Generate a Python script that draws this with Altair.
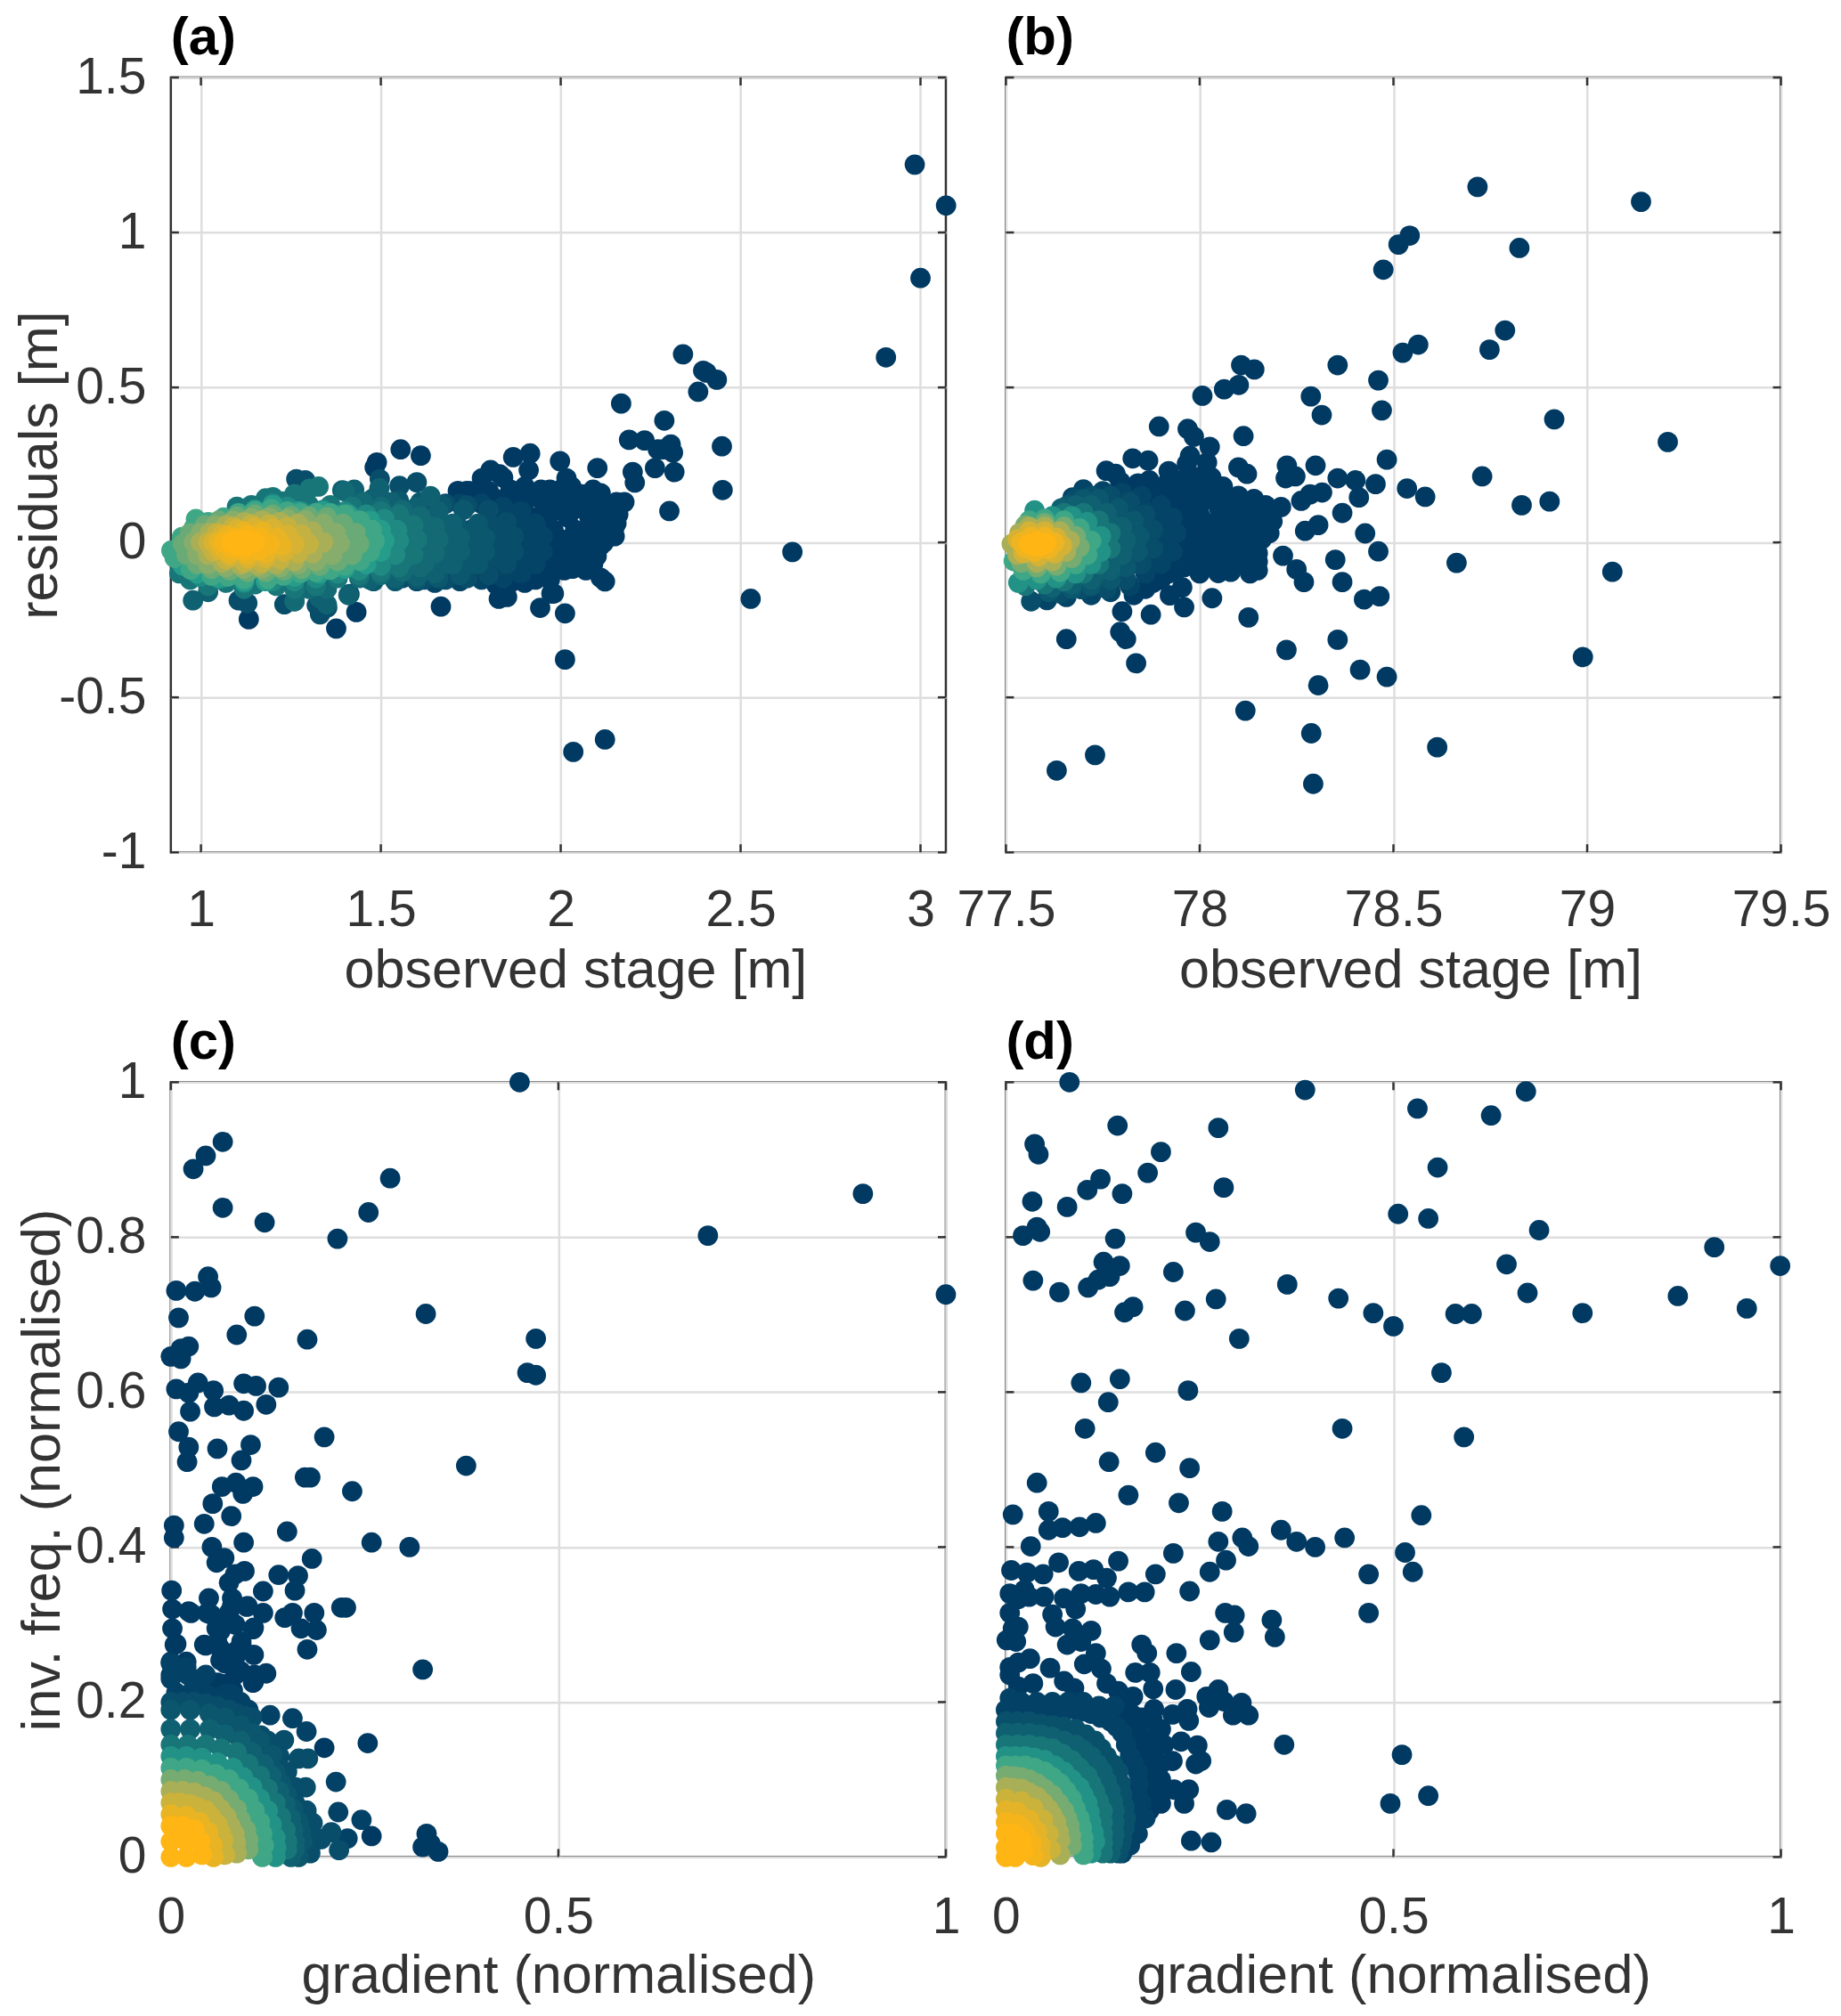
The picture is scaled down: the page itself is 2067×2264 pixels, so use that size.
import altair as alt
import pandas as pd

FONT = "Liberation Sans"
TEXT = "#333333"
FRAME = "#333333"
GRID = "#dedede"
COLOR_STOPS = [0, 0.25, 0.5, 0.75, 1]
COLOR_RANGE = ["#003a63", "#136a74", "#2aa58e", "#93ae66", "#ffb514"]

A_XTICKS = [1, 1.5, 2, 2.5, 3]
B_XTICKS = [77.5, 78, 78.5, 79, 79.5]
AB_YTICKS = [-1, -0.5, 0, 0.5, 1, 1.5]
CD_XTICKS = [0, 0.5, 1]
CD_YTICKS = [0, 0.2, 0.4, 0.6, 0.8, 1]

A_DARK = [
(2.984,1.219),(3.071,1.087),(3.0,.853),(2.904,.597),(2.34,.607),(2.396,.554),(2.405,.548),(2.434,.525),(2.382,.486),
(2.168,.448),(2.288,.393),(2.19,.331),(2.233,.329),(2.448,.31),(2.306,.316),(2.312,.29),(2.285,.3),(2.27,.3),(2.262,.24),
(2.316,.227),(2.2,.227),(2.206,.193),(2.45,.169),(2.302,.101),(2.177,.13),(2.644,-.031),(2.528,-.182),(2.012,-.229),
(2.012,-.378),(2.035,-.676),(2.123,-.636),(1.868,.275),(1.915,.287),(1.911,.233),(1.83,.22),(1.781,.207),(1.805,.233),
(1.998,.262),(2.016,.207),(2.102,.24),(2.03,.18),(2.111,.159),(2.059,.155),(2.155,.13),(2.137,.072),(2.155,.062),
(2.111,-.01),(2.033,-.085),(2.111,-.114),(2.123,-.126),(1.981,-.165),(1.943,-.211),(1.828,-.182),(1.851,-.176),(1.667,-.207),
(1.84,.209),(1.945,.17),(1.97,.156),(1.9,.18),(1.86,.17),(1.8,.165),(1.75,.165),(1.714,.166),(1.739,.166),(2.0,.17),
(2.08,.14),(2.12,.12),(2.16,.09),(2.05,.11),(2.0,.12),(1.95,.13),(1.9,.13),(1.85,.14),(1.96,.09),(2.02,.08),(2.08,.08),
(2.13,.03),(2.09,.03),(2.04,.04),(1.98,.04),(1.96,.0),(2.02,-.01),(2.07,-.02),(2.1,-.045),(2.05,-.06),(1.99,-.05),
(1.96,-.08),(2.01,-.09),(1.93,-.12),(1.97,-.12),(1.9,-.13),(1.86,-.13),(1.82,-.135),(2.0,-.02),(1.92,-.1),(1.95,.05),
(1.555,.3),(1.611,.28),(1.489,.258),(1.483,.242),(1.133,-.248),(1.376,-.278),(1.432,-.225),(1.974,-.165),
(1.88,.11),(1.92,.08),(1.98,.1),(2.03,.12),(2.07,.11),(2.11,.08),(2.15,.05),(1.91,.03),(1.94,.05),(1.93,.01),(2.0,.01),(2.06,.02),
(2.12,.0),(2.15,.02),(2.09,-.07),(2.04,-.03),(1.98,-.02),(1.94,-.04),(1.9,-.02),(1.88,-.06),(1.9,-.09),(1.96,-.05),(2.03,-.05),
(2.07,-.09),(1.88,.05),(1.85,.1),(1.82,.14),(1.78,.14),(1.74,.14),(1.92,.15),(1.97,.17),(2.03,.15),(2.09,.17),(2.13,.11),(2.14,.08),
(1.88,-.11),(1.84,-.125),
]
A_LEVELS = [.05,.1,.15,.2,.25,.3,.38,.46,.55,.65,.72,.8,.86,.91,.95,.98,1]
A_RINGS = [
[(1.72,.125),(1.78,.125),(1.84,.115),(1.89,.1),(1.93,.06),(1.95,.02),(1.95,-.03),(1.93,-.07),(1.89,-.1),(1.84,-.115),(1.78,-.12),(1.72,-.125),(1.65,-.13),(1.6,-.125),
 (1.91,.05),(1.91,0),(1.91,-.05),(1.87,.07),(1.87,.02),(1.87,-.03),(1.87,-.08),(1.82,.06),(1.82,0),(1.82,-.06)],
[(1.62,.13),(1.68,.125),(1.74,.12),(1.8,.105),(1.85,.065),(1.87,.02),(1.87,-.03),(1.85,-.07),(1.8,-.105),(1.74,-.115),(1.68,-.12),(1.62,-.12),(1.56,-.115),
 (1.83,.05),(1.83,0),(1.83,-.05),(1.79,.07),(1.79,.01),(1.79,-.06),(1.75,.04),(1.75,-.03),
 (1.497,.204),(1.552,.182),(1.6,.194),(1.265,.204),(1.29,.2),(1.351,-.21),(1.331,-.232),(1.322,-.203),(1.413,-.167),(1.232,-.2),(1.26,-.189),(1.105,-.187),(1.129,-.196)],
[(1.55,.135),(1.61,.13),(1.67,.12),(1.73,.105),(1.77,.06),(1.79,.015),(1.79,-.03),(1.77,-.07),(1.72,-.105),(1.66,-.115),(1.6,-.12),(1.54,-.125),(1.48,-.125),
 (1.75,.03),(1.75,-.02),(1.75,-.07),(1.71,.06),(1.71,0),(1.71,-.06),(1.67,.05),(1.67,-.04)],
[(1.47,.135),(1.53,.13),(1.6,.115),(1.66,.1),(1.7,.06),(1.72,.015),(1.72,-.03),(1.7,-.07),(1.65,-.1),(1.6,-.11),(1.54,-.115),(1.47,-.12),(1.41,-.17),(1.35,-.2),(1.33,-.18),
 (1.68,.04),(1.68,-.02),(1.68,-.07),(1.64,.06),(1.64,0),(1.64,-.06),(1.6,.04),(1.6,-.04),
 (1.496,.175),(1.393,.168),(1.426,.17),(1.638,.149),(1.479,.142),(1.12,-.145),(1.02,-.16),(.978,-.187)],
[(1.4,.165),(1.45,.13),(1.5,.115),(1.56,.105),(1.61,.085),(1.65,.05),(1.66,.01),(1.65,-.035),(1.61,-.08),(1.56,-.095),(1.5,-.105),(1.44,-.115),(1.26,-.19),(1.3,-.15),(1.35,-.15),
 (1.62,.04),(1.62,-.02),(1.62,-.07),(1.58,.06),(1.58,0),(1.58,-.06),(1.54,.04),(1.54,-.04)],
[(1.327,.18),(1.302,.173),(1.26,.156),(1.18,.142),(1.2,.146),(1.23,.132),(1.14,.12),(1.1,.115),(1.3,.12),(1.36,.12),(1.42,.115),(1.5,.1),(1.55,.09),(1.59,.055),(1.6,.01),(1.59,-.04),(1.55,-.08),(1.5,-.095),(1.44,-.105),(1.38,-.115),(1.32,-.14),(1.26,-.15),(1.21,-.14),(1.15,-.135),(1.12,-.15),(1.07,-.13),(1.02,-.14),(.97,-.12),(.94,-.1),
 (1.56,.04),(1.56,-.02),(1.56,-.06),(1.52,.05),(1.52,-.03),(1.48,0)],
[(1.2,.125),(1.24,.115),(1.28,.1),(1.34,.105),(1.4,.1),(1.46,.09),(1.51,.075),(1.545,.04),(1.55,.005),(1.54,-.04),(1.5,-.075),(1.44,-.09),(1.38,-.1),(1.32,-.115),(1.26,-.125),(1.2,-.125),(1.12,-.13),(1.06,-.115),(1.0,-.11),
 (1.52,.03),(1.52,-.03),(1.48,.05),(1.48,-.05)],
[(1.15,.105),(1.2,.12),(1.27,.1),(1.34,.1),(1.41,.09),(1.47,.07),(1.5,.04),(1.51,.005),(1.5,-.03),(1.46,-.07),(1.4,-.085),(1.33,-.1),(1.26,-.11),(1.18,-.125),(1.12,-.125),(1.05,-.115),(.99,-.1),(.95,-.075),
 (1.46,.03),(1.46,-.03),(1.42,.05),(1.42,-.05)],
[(.918,-.026),(.947,.017),(.986,.075),(.98,.046),(1.02,.065),(1.063,.08),(1.104,.094),(1.15,.1),(1.195,.108),(1.24,.1),(1.277,.094),(1.32,.095),(1.36,.094),(1.4,.09),(1.442,.07),(1.475,.04),(1.483,.005),(1.47,-.03),(1.442,-.059),(1.4,-.075),(1.36,-.088),(1.32,-.095),(1.277,-.098),(1.23,-.107),(1.186,-.117),(1.12,-.117),(1.075,-.11),(1.03,-.107),(.972,-.088),(.927,-.05)],
[(.95,-.005),(.97,.03),(1.01,.055),(1.05,.07),(1.1,.083),(1.15,.09),(1.2,.09),(1.25,.085),(1.3,.083),(1.35,.08),(1.395,.06),(1.43,.03),(1.44,-.005),(1.42,-.04),(1.38,-.06),(1.33,-.075),(1.28,-.085),(1.23,-.09),(1.18,-.095),(1.13,-.095),(1.08,-.09),(1.03,-.085),(.99,-.07),(.96,-.04)],
[(.98,.0),(1.0,.03),(1.04,.055),(1.09,.07),(1.14,.078),(1.19,.08),(1.24,.075),(1.29,.072),(1.34,.06),(1.375,.03),(1.385,-.005),(1.365,-.04),(1.32,-.06),(1.27,-.07),(1.22,-.08),(1.17,-.085),(1.12,-.085),(1.07,-.08),(1.02,-.07),(.99,-.04)],
[(1.0,.0),(1.025,.03),(1.07,.055),(1.12,.065),(1.17,.07),(1.22,.065),(1.27,.06),(1.31,.035),(1.34,.0),(1.31,-.035),(1.26,-.06),(1.21,-.07),(1.16,-.075),(1.11,-.072),(1.06,-.065),(1.02,-.04)],
[(1.02,.0),(1.045,.03),(1.09,.05),(1.14,.058),(1.19,.058),(1.24,.05),(1.28,.025),(1.3,-.005),(1.27,-.035),(1.22,-.055),(1.17,-.065),(1.12,-.065),(1.07,-.055),(1.035,-.03)],
[(1.035,.0),(1.06,.025),(1.1,.042),(1.15,.048),(1.2,.045),(1.24,.025),(1.26,-.005),(1.23,-.03),(1.18,-.05),(1.13,-.052),(1.08,-.045),(1.05,-.025)],
[(1.05,.0),(1.075,.022),(1.12,.035),(1.17,.035),(1.21,.015),(1.225,-.01),(1.18,-.035),(1.13,-.04),(1.08,-.035),(1.06,-.015)],
[(1.065,.0),(1.09,.015),(1.13,.022),(1.165,.015),(1.19,-.005),(1.16,-.025),(1.12,-.028),(1.085,-.02)],
[(1.085,.0),(1.1,.005),(1.125,.008),(1.15,.0),(1.125,-.012),(1.1,-.01)],
]

B_DARK = [
(78.717,1.147),(79.139,1.099),(78.542,.99),(78.513,.961),(78.825,.95),(78.474,.88),(78.788,.684),(78.748,.622),(78.564,.638),
(78.524,.612),(78.107,.572),(78.141,.558),(78.101,.508),(78.063,.494),(78.007,.473),(78.356,.572),(78.461,.523),(78.287,.471),
(78.315,.411),(78.47,.426),(78.915,.397),(79.208,.324),(77.895,.374),(77.969,.366),(77.985,.341),(78.026,.308),(78.113,.343),
(77.827,.271),(77.867,.264),(77.975,.279),(77.967,.254),(78.019,.258),(78.004,.213),(77.759,.231),(77.783,.221),(77.795,.196),
(78.1,.242),(78.122,.221),(78.225,.248),(78.299,.248),(78.483,.267),(78.222,.207),(78.247,.213),(78.356,.207),(78.402,.2),
(78.454,.188),(78.729,.213),(78.316,.161),(78.535,.174),(78.582,.147),(78.411,.145),(78.262,.134),(78.285,.155),(78.903,.132),
(78.831,.12),(78.368,.095),(78.21,.114),(78.188,.068),(78.306,.056),(78.272,.037),(78.427,.029),(79.065,-.095),(78.663,-.066),
(78.461,-.029),(78.35,-.056),(78.215,-.043),(78.25,-.087),(78.269,-.128),(78.368,-.128),(78.115,-.062),(78.15,-.062),(78.15,-.035),
(78.048,-.099),(78.032,-.18),(77.955,-.145),(77.923,-.171),(77.96,-.209),(77.874,-.233),(77.8,-.223),(78.126,-.242),(78.424,-.184),
(78.464,-.174),(77.795,-.289),(77.81,-.312),(77.656,-.312),(77.836,-.39),(78.224,-.347),(78.356,-.314),(78.414,-.411),(78.483,-.434),
(78.306,-.461),(78.989,-.37),(78.118,-.543),(78.288,-.616),(78.613,-.661),(77.73,-.686),(77.631,-.736),(78.293,-.779),
(77.88,.17),(77.92,.2),(77.96,.2),(78.0,.19),(78.06,.18),(78.1,.15),(78.14,.14),(78.17,.12),(78.19,.1),(78.14,.09),(78.1,.1),
(78.06,.13),(78.02,.14),(77.98,.14),(77.94,.15),(77.9,.14),(77.96,.09),(78.0,.09),(78.05,.08),(78.11,.05),(78.13,.02),(78.09,.02),
(78.04,.03),(78.0,.03),(77.96,.03),(77.95,-.02),(78.0,-.02),(78.05,-.02),(78.09,-.03),(78.13,-.01),(78.16,.01),(78.03,-.06),(77.98,-.06),
(77.94,-.09),(78.0,-.1),(78.08,-.07),(77.9,-.12),(77.86,-.15),(77.9,.1),(77.83,-.17),
(77.92,.17),(77.96,.16),(78.02,.17),(78.07,.15),(78.12,.12),(78.16,.09),(78.0,.12),(77.97,.12),(77.93,.12),(78.05,.11),(78.08,.07),
(78.12,.08),(77.98,.06),(78.02,.06),(78.07,.05),(78.15,.05),(78.18,.03),(77.98,.0),(78.03,.0),(78.08,.0),(78.12,-.02),(77.93,.03),
(77.94,-.04),(77.97,-.03),(78.02,-.04),(78.07,-.04),(78.11,-.06),(77.96,-.08),(78.04,-.08),(78.15,-.09),(78.13,-.1),(78.08,-.095),
(78.01,-.075),(77.92,-.1),(77.88,-.13),(77.85,.14),(77.84,.19),(77.87,.2),(77.92,.23),(77.97,.22),(78.03,.21),(77.86,.11),
]
B_LEVELS = [.05,.1,.15,.2,.3,.42,.55,.68,.8,.9,.96,1]
B_RINGS = [
[(77.672,.145),(77.7,.171),(77.75,.165),(77.8,.16),(77.85,.15),(77.9,.12),(77.93,.08),(77.94,.03),(77.93,-.03),(77.9,-.07),(77.86,-.1),(77.82,-.14),(77.77,-.16),(77.72,-.17),(77.656,-.176),(77.606,-.186),
 (77.9,.07),(77.9,.02),(77.9,-.03),(77.86,.1),(77.86,.05),(77.86,0),(77.86,-.05),(77.82,.1),(77.82,.05),(77.82,-.01),(77.82,-.07)],
[(77.68,.14),(77.72,.15),(77.77,.15),(77.82,.13),(77.86,.09),(77.88,.04),(77.88,-.02),(77.85,-.07),(77.81,-.12),(77.76,-.15),(77.695,-.151),(77.565,-.19),(77.64,-.165),
 (77.84,.08),(77.84,.03),(77.84,-.02),(77.84,-.07),(77.8,.09),(77.8,.04),(77.8,-.02),(77.8,-.08),(77.76,.09),(77.76,-.09)],
[(77.66,.12),(77.7,.14),(77.74,.14),(77.79,.11),(77.83,.07),(77.845,.02),(77.84,-.03),(77.81,-.08),(77.77,-.12),(77.72,-.14),(77.67,-.15),(77.61,-.16),
 (77.8,.05),(77.8,0),(77.8,-.05),(77.76,.08),(77.76,.02),(77.76,-.05),(77.76,-.1),(77.72,.09),(77.72,-.09)],
[(77.643,.11),(77.68,.12),(77.72,.12),(77.76,.095),(77.8,.05),(77.81,.005),(77.8,-.04),(77.77,-.09),(77.72,-.12),(77.67,-.135),(77.62,-.145),
 (77.77,.06),(77.77,.01),(77.77,-.04),(77.77,-.08),(77.73,.08),(77.73,.02),(77.73,-.05),(77.73,-.1),(77.69,.09)],
[(77.65,.095),(77.7,.095),(77.74,.07),(77.77,.03),(77.77,-.02),(77.74,-.07),(77.7,-.1),(77.65,-.125),(77.6,-.135),(77.55,-.14),
 (77.74,.03),(77.74,-.03),(77.71,.06),(77.71,.0),(77.71,-.06),(77.67,.07),(77.67,-.08)],
[(77.574,.103),(77.62,.085),(77.67,.085),(77.71,.065),(77.745,.02),(77.745,-.03),(77.72,-.07),(77.68,-.1),(77.63,-.115),(77.58,-.12),(77.532,-.13)],
[(77.56,.07),(77.6,.075),(77.65,.07),(77.69,.045),(77.72,.005),(77.71,-.04),(77.68,-.07),(77.64,-.095),(77.59,-.1),(77.545,-.09),(77.52,-.06)],
[(77.55,.055),(77.6,.062),(77.65,.05),(77.68,.02),(77.69,-.015),(77.67,-.05),(77.63,-.075),(77.58,-.08),(77.54,-.065)],
[(77.535,.03),(77.56,.05),(77.6,.05),(77.64,.035),(77.665,.005),(77.655,-.03),(77.62,-.06),(77.58,-.065),(77.53,-.04),(77.515,-.005)],
[(77.53,.01),(77.56,.035),(77.6,.035),(77.63,.015),(77.645,-.01),(77.625,-.035),(77.585,-.045),(77.545,-.035)],
[(77.54,.0),(77.565,.018),(77.6,.018),(77.625,.0),(77.61,-.022),(77.575,-.03),(77.55,-.018)],
[(77.56,-.005),(77.58,.003),(77.605,-.002),(77.59,-.012),(77.57,-.012)],
]

C_DARK = [
(.45,1.0),(.067,.923),(.045,.905),(.029,.888),(.283,.876),(.893,.856),(.067,.838),(.255,.832),(.121,.819),(.693,.802),(.215,.798),
(.048,.749),(.052,.735),(.007,.731),(.031,.73),(1.0,.726),(.01,.696),(.108,.698),(.329,.701),(.085,.674),(.176,.668),(.471,.669),
(.023,.659),(.013,.656),(0,.646),(.013,.643),(.46,.625),(.471,.622),(.035,.612),(.007,.604),(.023,.599),(.055,.602),(.094,.611),
(.11,.608),(.139,.606),(.056,.581),(.075,.583),(.094,.576),(.123,.584),(.025,.575),(.01,.549),(.198,.542),(.023,.529),(.06,.527),
(.103,.532),(.021,.51),(.091,.512),(.381,.505),(.173,.49),(.18,.49),(.234,.472),(.084,.483),(.066,.478),(.106,.478),(.093,.469),
(.054,.456),(.078,.44),(.043,.43),(.004,.428),(.004,.412),(.15,.42),(.259,.406),(.308,.4),(.094,.406),(.053,.4),(.069,.386),(.059,.38),
(.182,.385),(.095,.369),(.083,.365),(.075,.354),(.139,.364),(.164,.363),(.16,.344),(.119,.343),(.001,.344),(.049,.334),(.002,.32),
(.023,.317),(.047,.315),(.079,.324),(.099,.324),(.119,.315),(.075,.307),(.147,.309),(.157,.315),(.185,.315),(.22,.322),(.226,.322),
(.188,.293),(.168,.295),(.107,.296),(.059,.295),(.002,.295),(.005,.274),(.176,.268),(.043,.274),(.063,.27),(.091,.278),(.107,.261),
(.083,.265),(.325,.242),(.123,.237),(.107,.226),(.019,.249),(.07,.25),(.09,.24),(.06,.225),(.08,.215),(.254,.147),(.198,.141),
(.259,.027),(.33,.03),(.325,.013),(.345,.007),(.335,.017),
(.026,.315),(.079,.334),(.098,.323),(.075,.315),(.052,.313),(.106,.294),(.064,.292),(.083,.3),(.007,.275),(.045,.273),(.06,.277),
(.091,.273),(.064,.254),(.083,.258),(0,.252),(.02,.252),(0,.235),(.041,.231),(.106,.225),(.083,.235),(.108,.235),(.068,.223),
]
C_LEVELS = [.04,.1,.14,.2,.3,.42,.55,.68,.8,.88,.95,1]
C_RINGS = [
[(0,.25),(.02,.245),(.045,.235),(.07,.21),(.09,.2),(0,.23),(.03,.22),(.06,.205),(.128,.183),(.157,.179),(.175,.162),(.213,.097),(.216,.058),(.246,.048),(.228,.024),
 (.007,.212),(.026,.212),(.049,.208),(.07,.205),(.079,.21),(.022,.235),(.041,.231),(.1,.19)],
[(0,.2),(.03,.2),(.06,.195),(.085,.185),(.105,.18),(.116,.157),(.146,.151),(.165,.127),(.177,.127),(.161,.09),(.174,.09),(.207,.032),(.194,.023),(.217,.009),(.183,.044),
 (.015,.2),(.045,.198),(.075,.19),(.095,.182),(.1,.165),(.125,.15),(.14,.13),(.15,.11),(.16,.07),(.175,.06),(.175,.035),(.17,.005),(.185,.02),(.18,.005)],
[(0,.19),(.05,.185),(.09,.17),(.115,.15),(.131,.132),(.135,.11),(.15,.08),(.165,.045),(.17,.02),(.165,0),
 (.025,.19),(.07,.18),(.105,.16),(.125,.13),(.143,.095),(.158,.062),(.168,.033)],
[(0,.165),(.05,.165),(.09,.15),(.12,.12),(.14,.085),(.155,.05),(.16,.02),(.155,0),
 (.025,.165),(.07,.158),(.105,.135),(.13,.105),(.148,.068),(.158,.035),(.16,.01)],
[(0,.145),(.045,.145),(.085,.135),(.115,.105),(.135,.07),(.148,.035),(.15,.01),
 (.022,.145),(.065,.14),(.1,.12),(.125,.088),(.142,.052),(.15,.02)],
[(0,.13),(.04,.128),(.08,.115),(.105,.09),(.125,.06),(.135,.025),(.135,0),
 (.02,.13),(.06,.122),(.093,.103),(.115,.075),(.13,.042),(.136,.012)],
[(0,.115),(.04,.113),(.075,.1),(.1,.075),(.115,.045),(.12,.015),(.118,0),
 (.02,.115),(.058,.107),(.088,.088),(.108,.06),(.118,.03)],
[(0,.1),(.035,.098),(.065,.085),(.085,.062),(.097,.035),(.1,.01),
 (.018,.1),(.05,.092),(.075,.074),(.09,.048),(.1,.022)],
[(0,.085),(.03,.083),(.055,.072),(.072,.052),(.082,.03),(.085,.005),
 (.015,.085),(.043,.078),(.064,.062),(.077,.04),(.084,.018)],
[(0,.07),(.025,.068),(.045,.06),(.06,.042),(.068,.022),(.07,.003),
 (.012,.07),(.035,.064),(.052,.052),(.064,.032)],
[(0,.055),(.02,.053),(.037,.045),(.048,.032),(.054,.015),(.055,0)],
[(0,.04),(.015,.04),(.03,.035),(.038,.02),(.04,.003),(0,.02),(.02,.02),(0,0),(.02,0)],
]

D_DARK = [
(.082,1.0),(.386,.99),(.671,.988),(.531,.966),(.626,.957),(.144,.944),(.274,.941),(.037,.92),(.042,.907),(.2,.91),(.557,.89),(.183,.883),
(.122,.875),(.105,.861),(.15,.856),(.281,.864),(.034,.846),(.079,.839),(.506,.83),(.545,.824),(.04,.813),(.044,.807),(.022,.802),(.245,.806),
(.263,.794),(.141,.798),(.688,.809),(.914,.787),(.126,.768),(.147,.763),(.646,.765),(.999,.763),(.216,.755),(.134,.749),(.119,.745),(.106,.735),
(.035,.744),(.069,.729),(.363,.739),(.673,.728),(.867,.724),(.271,.72),(.429,.721),(.164,.71),(.153,.703),(.231,.705),(.474,.702),(.58,.701),
(.601,.701),(.744,.702),(.956,.708),(.5,.685),(.301,.669),(.562,.625),(.097,.612),(.147,.617),(.132,.587),(.235,.602),(.102,.553),(.434,.553),
(.591,.542),(.193,.522),(.133,.51),(.237,.502),(.04,.483),(.158,.467),(.223,.457),(.009,.442),(.055,.446),(.279,.446),(.536,.441),(.055,.422),
(.073,.425),(.095,.426),(.116,.431),(.355,.422),(.375,.407),(.399,.4),(.437,.412),(.305,.412),(.313,.401),(.274,.407),(.032,.401),(.216,.392),
(.515,.393),(.145,.382),(.068,.38),(.284,.383),(.263,.368),(.468,.365),(.525,.368),(.007,.37),(.027,.367),(.048,.365),(.094,.369),(.113,.371),
(.13,.36),(.193,.365),(.237,.343),(.005,.34),(.024,.345),(.016,.333),(.049,.336),(.03,.336),(.075,.334),(.097,.34),(.116,.339),(.134,.336),
(.158,.342),(.179,.342),(.005,.315),(.06,.313),(.09,.32),(.283,.315),(.295,.312),(.468,.315),(.343,.306),(.347,.284),(.294,.29),(.016,.297),
(.009,.295),(.064,.297),(.086,.295),(.11,.292),(.001,.28),(.013,.278),(.079,.274),(.097,.278),(.263,.28),(.175,.274),(.182,.263),(.116,.263),
(.22,.263),(.031,.256),(.016,.251),(.005,.245),(.101,.249),(.123,.243),(.057,.244),(.239,.239),(.167,.238),(.186,.238),(.075,.227),(.088,.218),
(.13,.224),(.035,.224),(.016,.22),(.005,.235),(.145,.214),(.164,.207),(.19,.217),(.219,.216),(.259,.207),(.274,.216),(.304,.199),(.281,.201),
(.262,.193),(.313,.183),(.293,.183),(.234,.191),(.215,.184),(.236,.176),(.191,.191),(.189,.178),(.164,.183),(.153,.164),(.359,.145),(.172,.154),
(.181,.141),(.204,.145),(.226,.149),(.247,.144),(.252,.124),(.245,.12),(.215,.124),(.193,.116),(.511,.132),(.545,.079),(.496,.069),(.236,.087),
(.217,.087),(.2,.083),(.23,.069),(.2,.069),(.285,.061),(.31,.056),(.239,.021),(.265,.019),(.185,.1),(.18,.125),
(.15,.19),(.165,.165),(.175,.125),(.19,.135),(.18,.1),(.185,.085),(.16,.175),(.17,.165),(.178,.145),(.165,.15),(.19,.155),(.175,.18),
(.2,.165),(.2,.12),(.19,.11),(.2,.1),(.19,.07),(.185,.06),
]
D_LEVELS = [.04,.12,.2,.3,.42,.55,.68,.8,.88,.94,.98,1]
D_RINGS = [
[(.005,.205),(.02,.2),(.14,.195),(.12,.195),(.1,.2),(.08,.2),(.06,.2),(.04,.2),(0,.19),(.03,.19),(.06,.185),(.09,.19),(.11,.185),(.135,.175),(.15,.16),(.16,.13),(.17,.11),(.17,.08),(.175,.05),(.165,.035),(.16,.015),(.15,.005),(.18,.05),(.175,.07),(.17,.03),
 (.015,.195),(.045,.188),(.075,.188),(.1,.188),(.122,.18),(.143,.168),(.155,.145),(.165,.12),(.171,.095),(.172,.065)],
[(0,.175),(.03,.175),(.06,.17),(.09,.165),(.115,.15),(.13,.13),(.145,.11),(.15,.08),(.155,.05),(.15,.025),(.145,.005),
 (.015,.175),(.045,.172),(.075,.168),(.103,.158),(.123,.14),(.138,.12),(.148,.095),(.153,.065),(.153,.038),(.148,.015)],
[(0,.16),(.03,.16),(.06,.155),(.09,.145),(.11,.13),(.125,.11),(.135,.085),(.14,.06),(.14,.03),(.135,.005),
 (.015,.16),(.045,.158),(.075,.15),(.1,.138),(.118,.12),(.13,.098),(.138,.072),(.14,.045),(.138,.018)],
[(0,.145),(.03,.145),(.06,.14),(.085,.125),(.105,.105),(.115,.085),(.125,.06),(.125,.03),(.125,.005),
 (.015,.145),(.045,.143),(.073,.133),(.095,.115),(.11,.095),(.12,.072),(.125,.045),(.125,.018)],
[(0,.13),(.025,.13),(.05,.125),(.075,.11),(.095,.09),(.105,.07),(.11,.045),(.115,.02),(.11,.005),
 (.012,.13),(.037,.128),(.063,.118),(.085,.1),(.1,.08),(.108,.058),(.113,.032)],
[(0,.118),(.025,.118),(.05,.11),(.07,.095),(.085,.075),(.095,.05),(.1,.025),(.1,.003),
 (.012,.118),(.037,.115),(.06,.103),(.078,.085),(.09,.062),(.098,.038),(.1,.014)],
[(0,.105),(.02,.103),(.04,.095),(.06,.08),(.075,.06),(.082,.04),(.085,.015),
 (.01,.104),(.03,.1),(.05,.088),(.068,.07),(.079,.05),(.084,.028)],
[(0,.09),(.02,.088),(.04,.078),(.055,.062),(.065,.045),(.07,.022),(.07,.003),
 (.01,.089),(.03,.083),(.048,.07),(.06,.054),(.068,.033)],
[(0,.075),(.02,.072),(.035,.063),(.048,.048),(.055,.03),(.058,.01)],
[(0,.06),(.015,.058),(.03,.048),(.04,.033),(.045,.015),(.045,0)],
[(0,.045),(.015,.042),(.025,.033),(.033,.018),(.035,.002)],
[(0,.03),(.01,.03),(.02,.022),(.022,.008),(0,.012),(.01,.01),(.012,0),(0,0)],
]

W = H = 871
TICK = 9
AXIS_STYLE = dict(
    labelFont=FONT, titleFont=FONT, labelColor=TEXT, titleColor=TEXT,
    labelFontSize=57, titleFontSize=61.2, titleFontWeight="normal",
    gridColor=GRID, gridWidth=2.5, domain=False, ticks=False,
    labelOverlap=False, labelBound=False, labelFlush=False,
)


def frame(dark, levels, rings):
    rows = [{"x": x, "y": y, "d": 0} for x, y in dark]
    for d, ring in zip(levels, rings):
        rows += [{"x": x, "y": y, "d": d} for x, y in ring]
    return pd.DataFrame(rows)


def panel(tag, dark, levels, rings, xdom, ydom, xticks, yticks, xtitle, ytitle,
          xtitle_x=W / 2, xlabel_pad=37, xtitle_pad=10, ytitle_pad=5):
    xs = alt.Scale(domain=xdom, nice=False, zero=False)
    ys = alt.Scale(domain=ydom, nice=False, zero=False)
    xaxis = alt.Axis(values=xticks, title=xtitle, labelPadding=xlabel_pad, titlePadding=xtitle_pad,
                     titleX=xtitle_x, labelExpr="'' + datum.value", **AXIS_STYLE)
    if ytitle:
        yaxis = alt.Axis(values=yticks, title=ytitle, labelPadding=28, titlePadding=ytitle_pad,
                         labelExpr="'' + datum.value", **AXIS_STYLE)
    else:
        yaxis = alt.Axis(values=yticks, title=None, labels=False, **AXIS_STYLE)
    df = frame(dark, levels, rings)
    pts = alt.Chart(df).mark_circle(size=520, opacity=1).encode(
        x=alt.X("x:Q", scale=xs, axis=xaxis),
        y=alt.Y("y:Q", scale=ys, axis=yaxis),
        color=alt.Color("d:Q", legend=None,
                        scale=alt.Scale(domain=COLOR_STOPS, range=COLOR_RANGE, interpolate="rgb")),
    )
    xt = pd.DataFrame({"t": xticks})
    yt = pd.DataFrame({"t": yticks})
    rule = dict(color=FRAME, strokeWidth=2.5)
    top = alt.Chart(xt).mark_rule(**rule).encode(x=alt.X("t:Q", scale=xs, axis=xaxis), y=alt.value(0), y2=alt.value(TICK))
    bot = alt.Chart(xt).mark_rule(**rule).encode(x=alt.X("t:Q", scale=xs, axis=xaxis), y=alt.value(H), y2=alt.value(H - TICK))
    lef = alt.Chart(yt).mark_rule(**rule).encode(y=alt.Y("t:Q", scale=ys, axis=yaxis), x=alt.value(0), x2=alt.value(TICK))
    rig = alt.Chart(yt).mark_rule(**rule).encode(y=alt.Y("t:Q", scale=ys, axis=yaxis), x=alt.value(W), x2=alt.value(W - TICK))
    lab = alt.Chart(pd.DataFrame({"t": [tag]})).mark_text(
        align="left", baseline="alphabetic", font=FONT, fontSize=60, fontWeight="bold", color="black"
    ).encode(text="t:N", x=alt.value(0), y=alt.value(-26))
    return alt.layer(top, bot, lef, rig, pts, lab).properties(width=W, height=H)


a = panel("(a)", A_DARK, A_LEVELS, A_RINGS, [0.9164, 3.0705], [-1, 1.5], A_XTICKS, AB_YTICKS,
          "observed stage [m]", "residuals [m]", xtitle_x=W / 2 + 19, ytitle_pad=-11)
b = panel("(b)", B_DARK, B_LEVELS, B_RINGS, [77.5, 79.5], [-1, 1.5], B_XTICKS, AB_YTICKS,
          "observed stage [m]", None, xtitle_x=W / 2 + 19)
c = panel("(c)", C_DARK, C_LEVELS, C_RINGS, [0, 1], [0, 1], CD_XTICKS, CD_YTICKS,
          "gradient (normalised)", "inv. freq. (normalised)", xlabel_pad=40, xtitle_pad=8)
d = panel("(d)", D_DARK, D_LEVELS, D_RINGS, [0, 1], [0, 1], CD_XTICKS, CD_YTICKS,
          "gradient (normalised)", None, xlabel_pad=40, xtitle_pad=8)

chart = alt.concat(a, b, c, d, columns=2, spacing={"column": 67.5, "row": 258.4}, bounds="flush").properties(
    padding={"left": 5, "top": 2, "right": 2, "bottom": 0}, background="white"
).configure_view(stroke=FRAME, strokeWidth=2.5)

chart.save("out.html", embed_options={"renderer": "svg", "actions": False})
